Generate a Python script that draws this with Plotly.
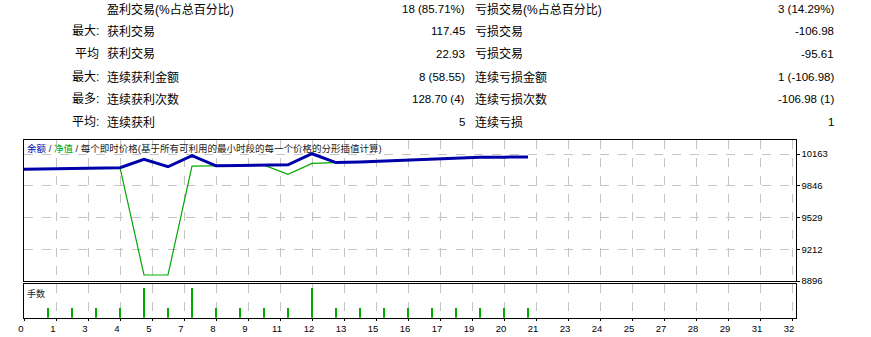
import plotly.graph_objects as go

W, H = 871, 337

# ---------------- data ----------------
trade_no = list(range(22))
balance = [10010, 10013, 10020, 10024, 10027, 10110, 10036, 10146, 10046, 10049, 10052,
           10056, 10166, 10078, 10084, 10094, 10106, 10110, 10122, 10130, 10132, 10134]
equity = [10010, 10013, 10020, 10024, 10027, 8956, 8956, 10043, 10046, 10049, 10052,
          9960, 10070, 10078, 10084, 10094, 10106, 10110, 10122, 10130, 10132, 10134]

lot_trade = list(range(1, 22))
lots = [0.01, 0.01, 0.01, 0.01, 0.03, 0.01, 0.03, 0.01, 0.01, 0.01, 0.01,
        0.03, 0.01, 0.01, 0.01, 0.01, 0.01, 0.01, 0.01, 0.01, 0.01]

x_tick_labels = ["0", "1", "3", "4", "5", "7", "8", "9", "11", "12", "13", "15", "16",
                 "17", "19", "20", "21", "23", "24", "25", "27", "28", "29", "31", "32"]
y_tick_labels = ["8896", "9212", "9529", "9846", "10163"]
y_tick_values = [8896, 9212.75, 9529.5, 9846.25, 10163]

stat_prefix = ["", "最大:", "平均", "最大:", "最多:", "平均:"]
stat_label1 = ["盈利交易(%占总百分比)", "获利交易", "获利交易", "连续获利金额", "连续获利次数", "连续获利"]
stat_value1 = ["18 (85.71%)", "117.45", "22.93", "8 (58.55)", "128.70 (4)", "5"]
stat_label2 = ["亏损交易(%占总百分比)", "亏损交易", "亏损交易", "连续亏损金额", "连续亏损次数", "连续亏损"]
stat_value2 = ["3 (14.29%)", "-106.98", "-95.61", "1 (-106.98)", "-106.98 (1)", "1"]

# ---------------- helpers ----------------
def fx(px):
    return px / W

def fy(py):
    return 1 - py / H

FONT = "Liberation Sans, Noto Sans CJK SC, sans-serif"
BLUE = "#0000AA"
GREEN = "#00AA00"
GRID = "#c4c4c4"

x_tick_vals = [i * 4 / 3 for i in range(len(x_tick_labels))]

fig = go.Figure()
fig.add_trace(go.Scatter(x=trade_no, y=equity, mode="lines",
                         line=dict(color=GREEN, width=1.2), xaxis="x", yaxis="y",
                         hoverinfo="skip"))
fig.add_trace(go.Scatter(x=trade_no, y=balance, mode="lines",
                         line=dict(color=BLUE, width=3), xaxis="x", yaxis="y",
                         hoverinfo="skip"))
fig.add_trace(go.Bar(x=lot_trade, y=lots, xaxis="x2", yaxis="y2", width=0.05,
                     marker=dict(color=GREEN, line=dict(width=0)), hoverinfo="skip"))

xdom = [fx(24), fx(795.5)]
xrange_ = [0, (795.5 - 24) / 24]

axis_common = dict(showline=True, mirror=True, linecolor="black", linewidth=1,
                   zeroline=False, automargin=False)

fig.update_layout(
    template="none",
    width=W, height=H, margin=dict(l=0, r=0, t=0, b=0, pad=0, autoexpand=False),
    paper_bgcolor="white", plot_bgcolor="white", showlegend=False,
    font=dict(family=FONT, size=10, color="black"),
    bargap=0,
    xaxis=dict(domain=xdom, range=xrange_, anchor="y", tickvals=x_tick_vals,
               showticklabels=False, ticks="", showgrid=True, gridcolor=GRID,
               griddash="dash", gridwidth=1, **axis_common),
    yaxis=dict(domain=[fy(281), fy(139.5)], range=[8896, 10308], anchor="x",
               side="right", tickvals=y_tick_values, ticktext=y_tick_labels,
               ticks="outside", ticklen=3, tickcolor="black",
               tickfont=dict(family=FONT, size=9.5, color="black"),
               showgrid=True, gridcolor=GRID, griddash="dash", gridwidth=1,
               **axis_common),
    xaxis2=dict(domain=xdom, range=xrange_, anchor="y2", matches="x",
                tickvals=x_tick_vals, ticktext=x_tick_labels, ticks="outside",
                ticklen=2, tickcolor="black", ticklabelshift=-3,
                tickfont=dict(family=FONT, size=9.5, color="black"),
                showgrid=True, gridcolor=GRID, griddash="dash", gridwidth=1,
                **axis_common),
    yaxis2=dict(domain=[fy(317.7), fy(283.8)], range=[0, 0.03424], anchor="x2",
                showticklabels=False, ticks="", showgrid=False, **axis_common),
)

annotations = []
row_y = [9, 31.5, 54, 77, 99.5, 122]
for i, yy in enumerate(row_y):
    if stat_prefix[i]:
        annotations.append(dict(x=fx(101), y=fy(yy), xref="paper", yref="paper",
                                text=stat_prefix[i], showarrow=False, xanchor="right",
                                yanchor="middle", font=dict(family=FONT, size=12, color="black")))
    annotations.append(dict(x=fx(105), y=fy(yy), xref="paper", yref="paper",
                            text=stat_label1[i], showarrow=False, xanchor="left",
                            yanchor="middle", font=dict(family=FONT, size=12, color="black")))
    annotations.append(dict(x=fx(467), y=fy(yy), xref="paper", yref="paper",
                            text=stat_value1[i], showarrow=False, xanchor="right",
                            yanchor="middle", font=dict(family=FONT, size=11.5, color="black")))
    annotations.append(dict(x=fx(473), y=fy(yy), xref="paper", yref="paper",
                            text=stat_label2[i], showarrow=False, xanchor="left",
                            yanchor="middle", font=dict(family=FONT, size=12, color="black")))
    annotations.append(dict(x=fx(836), y=fy(yy), xref="paper", yref="paper",
                            text=stat_value2[i], showarrow=False, xanchor="right",
                            yanchor="middle", font=dict(family=FONT, size=11.5, color="black")))

legend_text = (f'<span style="color:{BLUE}">余额</span> / '
               f'<span style="color:{GREEN}">净值</span> / '
               '每个即时价格(基于所有可利用的最小时段的每一个价格的分形插值计算)')
annotations.append(dict(x=fx(25), y=fy(148), xref="paper", yref="paper",
                        text=legend_text, showarrow=False, xanchor="left",
                        yanchor="middle", font=dict(family=FONT, size=9.5, color="#202020")))
annotations.append(dict(x=fx(25), y=fy(293), xref="paper", yref="paper",
                        text="手数", showarrow=False, xanchor="left",
                        yanchor="middle", font=dict(family=FONT, size=9, color="#202020")))

fig.update_layout(annotations=annotations)

fig.write_html("out.html")
